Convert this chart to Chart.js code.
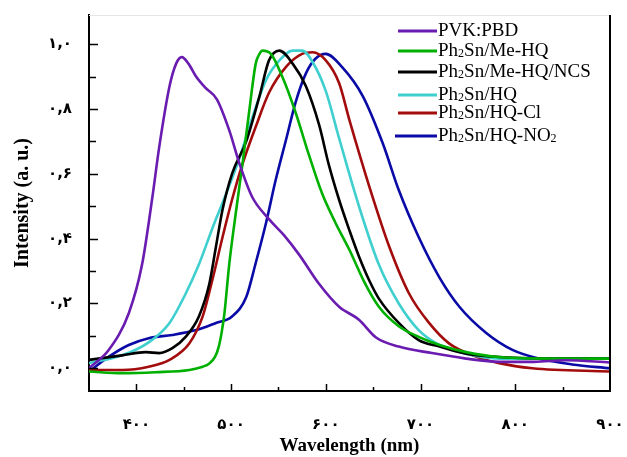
<!DOCTYPE html>
<html>
<head>
<meta charset="utf-8">
<script src="https://cdn.jsdelivr.net/npm/chart.js@4.4.0/dist/chart.umd.min.js"></script>
<style>
  html, body { margin: 0; padding: 0; background: #fff; }
</style>
</head>
<body>
<canvas id="pl" width="627" height="457"></canvas>
<script>
// tick values + persian labels
const xTickValues = [400, 500, 600, 700, 800, 900];
const xTickLabels = ['۴۰۰', '۵۰۰', '۶۰۰', '۷۰۰', '۸۰۰', '۹۰۰'];
const yTickValues = [0, 0.2, 0.4, 0.6, 0.8, 1.0];
const yTickLabels = ['۰,۰', '۰,۲', '۰,۴', '۰,۶', '۰,۸', '۱,۰'];

const seriesNames = ['PVK:PBD', 'Ph₂Sn/Me-HQ', 'Ph₂Sn/Me-HQ/NCS', 'Ph₂Sn/HQ', 'Ph₂Sn/HQ-Cl', 'Ph₂Sn/HQ-NO₂'];
const seriesColors = ['#6a1bb0', '#00b000', '#000000', '#3fcfcf', '#a30c0c', '#0a0aa6'];

// PVK:PBD
const pvkX = [350, 371, 392, 406, 417, 424, 435, 442, 448, 455, 463, 473, 485, 498, 509, 522, 540, 556, 572, 593, 614, 635, 653, 677, 712, 748, 783, 820, 853, 900];
const pvkY = [0.0, 0.057, 0.17, 0.32, 0.53, 0.68, 0.87, 0.94, 0.96, 0.94, 0.90, 0.865, 0.83, 0.735, 0.63, 0.53, 0.46, 0.41, 0.35, 0.26, 0.19, 0.15, 0.095, 0.067, 0.047, 0.03, 0.02, 0.02, 0.025, 0.018];

// Ph2Sn/Me-HQ
const meX = [350, 385, 420, 456, 470, 477, 483, 487, 490, 493, 498, 505, 512, 519, 526, 530, 533, 542, 554, 568, 582, 596, 610, 625, 640, 656, 677, 698, 720, 748, 783, 853, 900];
const meY = [-0.01, -0.015, -0.012, -0.005, 0.005, 0.015, 0.035, 0.067, 0.11, 0.17, 0.32, 0.48, 0.63, 0.79, 0.94, 0.97, 0.98, 0.97, 0.90, 0.79, 0.66, 0.54, 0.45, 0.365, 0.27, 0.19, 0.13, 0.097, 0.072, 0.05, 0.035, 0.03, 0.03];

// Ph2Sn/Me-HQ/NCS
const ncsX = [350, 385, 410, 424, 438, 452, 466, 477, 484, 491, 501, 516, 530, 540, 551, 565, 579, 593, 603, 614, 625, 635, 646, 656, 677, 698, 720, 748, 783, 853, 900];
const ncsY = [0.026, 0.04, 0.05, 0.047, 0.062, 0.097, 0.16, 0.26, 0.375, 0.49, 0.60, 0.70, 0.84, 0.95, 0.98, 0.94, 0.87, 0.75, 0.63, 0.52, 0.425, 0.345, 0.27, 0.215, 0.14, 0.087, 0.067, 0.045, 0.035, 0.03, 0.03];

// Ph2Sn/HQ
const hqX = [350, 385, 413, 435, 452, 466, 480, 495, 509, 522, 537, 551, 565, 575, 586, 600, 614, 635, 656, 677, 698, 720, 748, 783, 853, 900];
const hqY = [0.016, 0.04, 0.08, 0.14, 0.23, 0.32, 0.43, 0.54, 0.65, 0.77, 0.89, 0.95, 0.98, 0.98, 0.945, 0.855, 0.71, 0.50, 0.32, 0.20, 0.118, 0.072, 0.045, 0.03, 0.03, 0.03];

// Ph2Sn/HQ-Cl
const clX = [350, 385, 413, 435, 456, 470, 480, 491, 501, 512, 526, 540, 558, 575, 586, 600, 614, 625, 646, 667, 688, 709, 730, 755, 783, 818, 900];
const clY = [-0.005, -0.005, 0.005, 0.026, 0.077, 0.16, 0.27, 0.405, 0.52, 0.63, 0.745, 0.85, 0.93, 0.97, 0.975, 0.95, 0.88, 0.765, 0.56, 0.375, 0.23, 0.14, 0.077, 0.04, 0.016, 0.0, -0.01];

// Ph2Sn/HQ-NO2
const noX = [350, 371, 392, 413, 438, 463, 484, 501, 516, 526, 537, 547, 558, 568, 579, 589, 600, 617, 639, 660, 677, 698, 720, 741, 769, 797, 825, 860, 900];
const noY = [-0.01, 0.036, 0.072, 0.093, 0.103, 0.118, 0.14, 0.16, 0.22, 0.325, 0.45, 0.58, 0.705, 0.82, 0.91, 0.955, 0.97, 0.93, 0.84, 0.695, 0.55, 0.405, 0.28, 0.19, 0.11, 0.057, 0.03, 0.012, 0.0];

const allX = [pvkX, meX, ncsX, hqX, clX, noX];
const allY = [pvkY, meY, ncsY, hqY, clY, noY];

const datasets = seriesNames.map((name, i) => ({
  label: name,
  data: allX[i].map((x, j) => ({ x: x, y: allY[i][j] })),
  borderColor: seriesColors[i],
  borderWidth: 2.6,
  pointRadius: 0,
  fill: false,
  cubicInterpolationMode: 'monotone'
}));

// inward ticks, frame and legend
const framePlugin = {
  id: 'frame',
  afterDraw(chart) {
    const ctx = chart.ctx;
    const a = chart.chartArea;
    const xs = chart.scales.x, ys = chart.scales.y;
    ctx.save();
    ctx.strokeStyle = '#e6e6e6';
    ctx.lineWidth = 1;
    ctx.beginPath();
    ctx.moveTo(a.left, a.top + 0.5);
    ctx.lineTo(a.right, a.top + 0.5);
    ctx.stroke();
    ctx.strokeStyle = '#000';
    ctx.lineWidth = 2;
    ctx.beginPath();
    ctx.moveTo(a.right, a.top);
    ctx.lineTo(a.right, a.bottom);
    ctx.stroke();

    ctx.lineWidth = 1.5;
    ctx.beginPath();
    for (let v = 400; v < 900; v += 50) {
      const px = Math.round(xs.getPixelForValue(v)) + 0.5;
      const len = v % 100 === 0 ? 7 : 4;
      ctx.moveTo(px, a.bottom);
      ctx.lineTo(px, a.bottom - len);
    }
    for (let k = 0; k <= 10; k++) {
      const py = Math.round(ys.getPixelForValue(k / 10)) + 0.5;
      const len = k % 2 === 0 ? 9 : 7;
      ctx.moveTo(a.left, py);
      ctx.lineTo(a.left + len, py);
    }
    ctx.stroke();

    // legend
    const rows = [31, 51, 72, 95, 113, 136];
    chart.data.datasets.forEach((ds, i) => {
      const y = rows[i];
      ctx.strokeStyle = ds.borderColor;
      ctx.lineWidth = 3;
      ctx.beginPath();
      ctx.moveTo(i === 5 ? 395 : 398, y);
      ctx.lineTo(437, y);
      ctx.stroke();
      ctx.fillStyle = '#000';
      ctx.textBaseline = 'alphabetic';
      let x = 438;
      const parts = ds.label.split(/([₂])/);
      parts.forEach(p => {
        if (p === '₂') {
          ctx.font = '12px "Liberation Serif"';
          ctx.fillText('2', x, y + 6);
          x += ctx.measureText('2').width;
        } else if (p) {
          ctx.font = '19px "Liberation Serif"';
          ctx.fillText(p, x, y + 5);
          x += ctx.measureText(p).width;
        }
      });
    });
    ctx.restore();
  }
};

new Chart(document.getElementById('pl'), {
  type: 'line',
  data: { datasets: datasets },
  options: {
    responsive: false,
    animation: false,
    layout: { padding: { top: 15, right: 17, left: 0, bottom: 0 } },
    plugins: { legend: { display: false }, tooltip: { enabled: false } },
    scales: {
      x: {
        type: 'linear',
        min: 350,
        max: 900,
        afterFit(s) { s.height = 66; s.paddingLeft = 0; s.paddingRight = 0; },
        afterBuildTicks(s) { s.ticks = xTickValues.map(v => ({ value: v })); },
        grid: { display: false },
        border: { display: true, color: '#000', width: 2 },
        ticks: {
          padding: 17,
          maxRotation: 0,
          autoSkip: false,
          color: '#000',
          font: { family: '"DejaVu Sans"', size: 15, weight: 'bold' },
          callback: (v, i) => xTickLabels[i]
        },
        title: {
          display: true,
          text: 'Wavelength (nm)',
          color: '#000',
          padding: { top: 0, bottom: 0 },
          font: { family: '"Liberation Serif"', size: 19, weight: 'bold' }
        }
      },
      y: {
        min: -0.07,
        max: 1.09,
        afterFit(s) { s.width = 89; s.paddingTop = 0; s.paddingBottom = 0; },
        afterBuildTicks(s) { s.ticks = yTickValues.map(v => ({ value: v })); },
        grid: { display: false },
        border: { display: true, color: '#000', width: 2 },
        ticks: {
          padding: 9,
          autoSkip: false,
          color: '#000',
          font: { family: '"DejaVu Sans"', size: 15, weight: 'bold' },
          callback: (v, i) => yTickLabels[i]
        },
        title: {
          display: true,
          text: 'Intensity (a. u.)',
          color: '#000',
          padding: { top: 11, bottom: 0 },
          font: { family: '"Liberation Serif"', size: 20, weight: 'bold' }
        }
      }
    }
  },
  plugins: [framePlugin]
});
</script>
</body>
</html>
